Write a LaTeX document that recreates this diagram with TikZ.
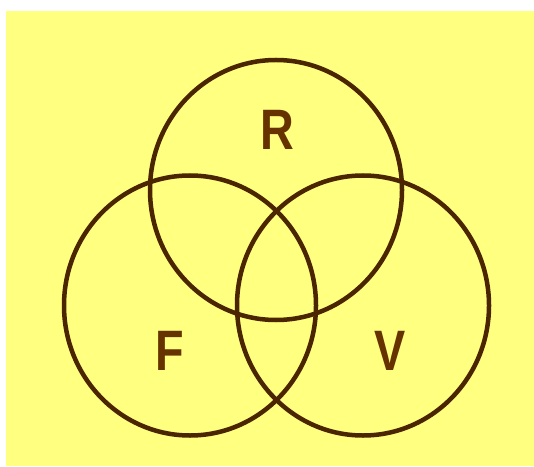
\documentclass[tikz,border=0pt]{standalone}
\usepackage{fontspec}
\setmainfont{Liberation Sans}
\usetikzlibrary{positioning}
\definecolor{bgyellow}{RGB}{255,255,128}
\definecolor{ringbrown}{RGB}{74,37,0}
\definecolor{letterbrown}{RGB}{102,51,0}
\tikzstyle{ring} = [draw=ringbrown, line width=4.5pt]
\tikzstyle{letter} = [text=letterbrown,
font=\fontsize{57}{57}\selectfont\bfseries,
inner sep=0pt,
xscale=0.82, transform shape]
\begin{document}
\begin{tikzpicture}[x=1pt, y=1pt]
    \useasboundingbox (0,0) rectangle (534,466);
    \fill [bgyellow] (6,0) rectangle (534,455);
    % the three sets
    \draw [ring] (276,276) ellipse [x radius=126, y radius=130];
    \draw [ring] (190,160.5) ellipse [x radius=126, y radius=130];
    \draw [ring] (363,160.5) ellipse [x radius=126, y radius=130];
    \node (r) [letter] at (277,336) {R};
    \node (f) [letter] at (170,115) {F};
    \node (v) [letter] at (390.5,115) {V};
\end{tikzpicture}
\end{document}
